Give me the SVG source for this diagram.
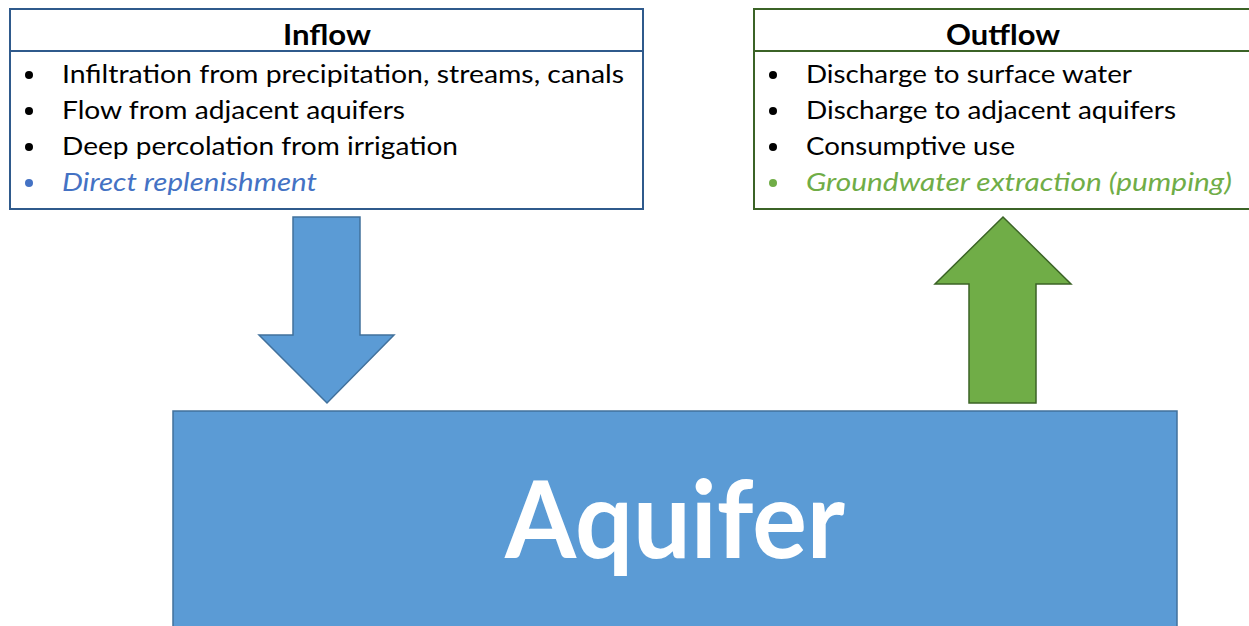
<svg xmlns="http://www.w3.org/2000/svg" width="1249" height="626" viewBox="0 0 1249 626">
  <style>
    .txt { font-family: Lato, "Liberation Sans", sans-serif; font-size: 25px; fill: #000; }
    .title { font-family: Lato, "Liberation Sans", sans-serif; font-size: 28px; font-weight: bold; fill: #000; text-anchor: middle; }
    .blue-it { fill: #4472C4; font-style: italic; }
    .green-it { fill: #70AD47; font-style: italic; }
    .box-in { fill: #fff; stroke: #2F5A8C; stroke-width: 2; }
    .box-out { fill: #fff; stroke: #3B6326; stroke-width: 2; }
    .arrow-blue { fill: #5B9BD5; stroke: #41719C; stroke-width: 1.5; }
    .arrow-green { fill: #70AD47; stroke: #3B6326; stroke-width: 1.5; }
    .aquifer { fill: #5B9BD5; stroke: #41719C; stroke-width: 1.5; }
    .aq-label { font-family: Lato, "Liberation Sans", sans-serif; font-size: 108px; font-weight: bold; fill: #fff; text-anchor: middle; }
  </style>
  <rect width="1249" height="626" fill="#fff"/>

  <g id="inflow">
    <rect class="box-in" x="10" y="9" width="633" height="200"/>
    <line x1="10" y1="51" x2="643" y2="51" stroke="#2F5A8C" stroke-width="2"/>
    <text class="title" x="327" y="45" textLength="88" lengthAdjust="spacingAndGlyphs">Inflow</text>
    <circle cx="29" cy="75" r="4" fill="#000"/>
    <circle cx="29" cy="111" r="4" fill="#000"/>
    <circle cx="29" cy="147" r="4" fill="#000"/>
    <circle cx="29" cy="183" r="4" fill="#4472C4"/>
    <text class="txt" x="62" y="83" textLength="562" lengthAdjust="spacingAndGlyphs">Infiltration from precipitation, streams, canals</text>
    <text class="txt" x="62" y="119" textLength="343" lengthAdjust="spacingAndGlyphs">Flow from adjacent aquifers</text>
    <text class="txt" x="62" y="155" textLength="396" lengthAdjust="spacingAndGlyphs">Deep percolation from irrigation</text>
    <text class="txt blue-it" x="62" y="191" textLength="255" lengthAdjust="spacingAndGlyphs">Direct replenishment</text>
  </g>

  <g id="outflow">
    <rect class="box-out" x="754" y="9" width="500" height="200"/>
    <line x1="754" y1="51" x2="1254" y2="51" stroke="#3B6326" stroke-width="2"/>
    <text class="title" x="1003" y="45" textLength="114" lengthAdjust="spacingAndGlyphs">Outflow</text>
    <circle cx="773" cy="75" r="4" fill="#000"/>
    <circle cx="773" cy="111" r="4" fill="#000"/>
    <circle cx="773" cy="147" r="4" fill="#000"/>
    <circle cx="773" cy="183" r="4" fill="#70AD47"/>
    <text class="txt" x="806" y="83" textLength="326" lengthAdjust="spacingAndGlyphs">Discharge to surface water</text>
    <text class="txt" x="806" y="119" textLength="370" lengthAdjust="spacingAndGlyphs">Discharge to adjacent aquifers</text>
    <text class="txt" x="806" y="155" textLength="209" lengthAdjust="spacingAndGlyphs">Consumptive use</text>
    <text class="txt green-it" x="806" y="191" textLength="426" lengthAdjust="spacingAndGlyphs">Groundwater extraction (pumping)</text>
  </g>

  <g id="connectors">
    <!-- downward inflow arrow -->
    <polygon class="arrow-blue" points="293,217 360,217 360,335 394,335 327,403 259,335 293,335"/>
    <!-- upward outflow arrow -->
    <polygon class="arrow-green" points="1003,217 1071,284 1036,284 1036,403 969,403 969,284 935,284"/>
  </g>

  <g id="aquifer">
    <rect class="aquifer" x="173" y="411" width="1004" height="220"/>
    <text class="aq-label" x="675" y="558" textLength="340" lengthAdjust="spacingAndGlyphs">Aquifer</text>
  </g>
</svg>
